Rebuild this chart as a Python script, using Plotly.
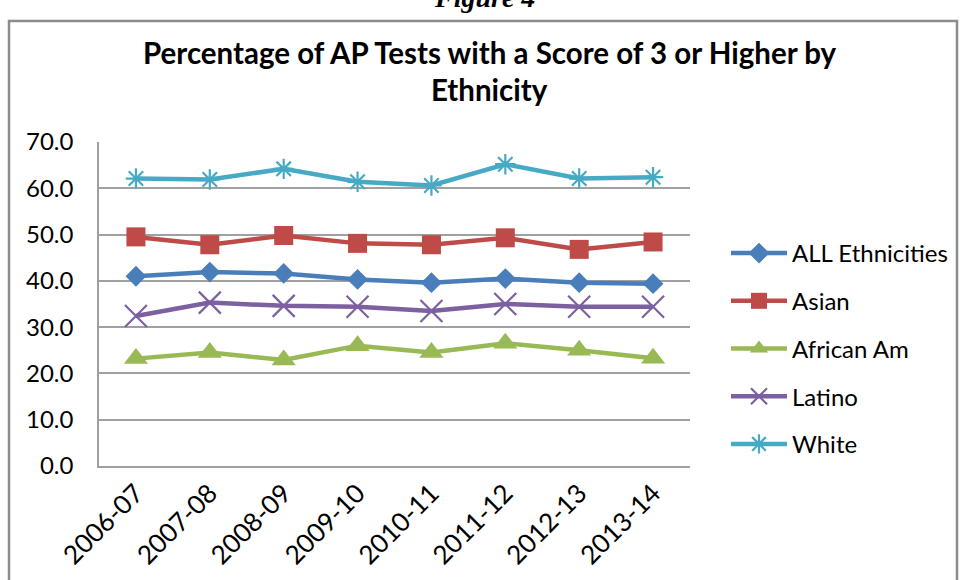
import plotly.graph_objects as go

years = ["2006-07", "2007-08", "2008-09", "2009-10", "2010-11", "2011-12", "2012-13", "2013-14"]
all_eth = [41.0, 41.9, 41.6, 40.3, 39.6, 40.5, 39.6, 39.4]
asian = [49.5, 47.8, 49.8, 48.1, 47.8, 49.3, 46.8, 48.4]
african_am = [23.2, 24.5, 22.9, 26.0, 24.5, 26.5, 25.0, 23.3]
latino = [32.4, 35.3, 34.6, 34.4, 33.5, 35.0, 34.4, 34.4]
white = [62.1, 61.9, 64.2, 61.4, 60.6, 65.2, 62.1, 62.4]

series_names = ["ALL Ethnicities", "Asian", "African Am", "Latino", "White"]
y_ticks = [0, 10, 20, 30, 40, 50, 60, 70]

FONT = "Lato"
W, H = 960, 580
L, R, T, B = 99, 270, 142, 114
PW, PH = W - L - R, H - T - B

def px_x(px):
    return (px - L) / PW

def px_y(py):
    return (H - B - py) / PH

styles = [
    dict(color="#4A7EBB", symbol="diamond", size=16, lw=0),
    dict(color="#BE4B48", symbol="square", size=19, lw=0),
    dict(color="#98B954", symbol="triangle-up", size=21, lw=0),
    dict(color="#7D60A0", symbol="x-thin-open", size=22, lw=2.2),
    dict(color="#46AAC5", symbol="asterisk-open", size=17, lw=2.2),
]

fig = go.Figure()
for i, (name, vals) in enumerate(zip(series_names, [all_eth, asian, african_am, latino, white])):
    s = styles[i]
    fig.add_trace(go.Scatter(
        x=years, y=vals, name=name, mode="lines+markers",
        legendgroup=name,
        line=dict(color=s["color"], width=4.5),
        marker=dict(symbol=s["symbol"], size=s["size"], color=s["color"],
                    line=dict(color=s["color"], width=s["lw"])),
    ))

fig.update_layout(
    width=W, height=H,
    margin=dict(l=L, r=R, t=T, b=B, autoexpand=False),
    paper_bgcolor="white", plot_bgcolor="white",
    font=dict(family=FONT, size=23, color="#000000"),
    showlegend=True,
    legend=dict(
        x=px_x(726), y=px_y(231), xanchor="left", yanchor="top",
        font=dict(family=FONT, size=24, color="#000000"),
        itemwidth=56, tracegroupgap=13.5, bgcolor="rgba(0,0,0,0)",
    ),
    xaxis=dict(
        type="category", range=[-0.5, 7.5], showgrid=False,
        showline=True, linecolor="#A0A0A0", linewidth=1.5,
        tickangle=-45, ticks="", ticklen=0,
        tickfont=dict(family=FONT, size=26, color="#000000"),
        tickvals=years, ticktext=years,
    ),
    yaxis=dict(
        range=[0, 70], tickvals=y_ticks, tickformat=".1f",
        showgrid=True, gridcolor="#A0A0A0", gridwidth=1.5,
        showline=True, linecolor="#A0A0A0", linewidth=1.5,
        zeroline=False,
        ticks="outside", ticklen=19, tickcolor="rgba(0,0,0,0)",
        tickfont=dict(family=FONT, size=24, color="#000000"),
    ),
)

# chart border
fig.add_shape(type="rect", xref="paper", yref="paper",
              x0=px_x(9), x1=px_x(957), y0=px_y(620), y1=px_y(21),
              line=dict(color="#8C8C8C", width=2.5), fillcolor="rgba(0,0,0,0)", layer="below")

# title (two lines)
fig.add_annotation(text="<b>Percentage of AP Tests with a Score of 3 or Higher by</b>",
                   xref="paper", yref="paper", x=px_x(490), y=px_y(52),
                   xanchor="center", yanchor="middle", showarrow=False,
                   font=dict(family=FONT, size=29.5, color="#000000"))
fig.add_annotation(text="<b>Ethnicity</b>",
                   xref="paper", yref="paper", x=px_x(490), y=px_y(90),
                   xanchor="center", yanchor="middle", showarrow=False,
                   font=dict(family=FONT, size=29.5, color="#000000"))
# clipped caption above the chart
fig.add_annotation(text="<b><i>Figure 4</i></b>",
                   xref="paper", yref="paper", x=px_x(484), y=px_y(-3),
                   xanchor="center", yanchor="middle", showarrow=False,
                   font=dict(family="Liberation Serif", size=28, color="#000000"))

fig.write_html("out.html", config={"displayModeBar": False},
               post_script="document.body.style.margin='0';")
